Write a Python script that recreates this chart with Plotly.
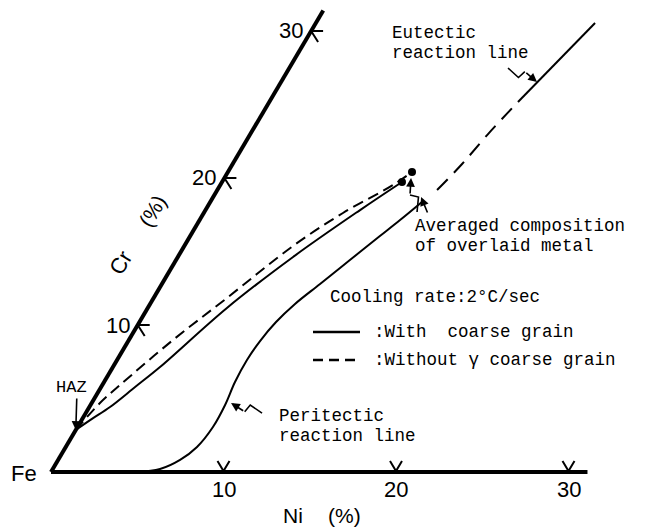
import math
import plotly.graph_objects as go

W, H = 649, 530

# ---------------- data (composition, %) ----------------
ni_ticks = [10, 20, 30]
cr_ticks = [10, 20, 30]
ni_axis_end = 31.1
cr_axis_end = 31.4

# Cooling rate 2 C/sec - with coarse grain (solid)
with_ni = [0.0, 0.56, 1.20, 1.97, 2.73, 4.59, 6.68, 8.96, 10.43]
with_cr = [2.86, 3.61, 4.42, 5.78, 7.14, 11.16, 14.63, 17.82, 19.73]

# without gamma coarse grain (dashed)
without_ni = [0.0, 0.48, 1.03, 2.56, 4.25, 6.30, 8.07, 10.01, 10.67]
without_cr = [2.86, 4.69, 5.92, 8.98, 11.84, 15.37, 17.62, 19.52, 20.41]

# peritectic reaction line
peri_ni = [4.99, 6.22, 7.07, 7.61, 7.85, 7.80, 7.59, 7.53, 7.64, 7.92, 8.40, 9.17, 10.08, 11.00, 11.62, 12.27]
peri_cr = [0.0, 0.20, 0.82, 1.70, 3.06, 4.56, 6.12, 7.62, 8.91, 10.20, 11.43, 12.79, 14.42, 16.05, 17.14, 18.37]

# eutectic reaction line
eut_dash_ni = [12.74, 13.30, 13.78, 14.42]
eut_dash_cr = [19.18, 20.95, 22.99, 25.17]
eut_solid_ni = [14.42, 16.19]
eut_solid_cr = [25.17, 30.54]

# averaged composition of overlaid metal
avg_ni = [10.43, 10.67]
avg_cr = [19.73, 20.41]

# ---------------- frame geometry (skewed composition frame) ----------------
ORG = (51.0, 472.0)   # pixel position of Fe corner
S_NI = 17.25          # px per % Ni (horizontal)
S_CRX = 8.67          # px right per % Cr
S_CRY = 14.7          # px up per % Cr
SKEW = S_CRX / S_NI


def comp(ni, cr):
    """composition -> plot coords"""
    if isinstance(ni, (list, tuple)):
        return [a + b * SKEW for a, b in zip(ni, cr)], list(cr)
    return ni + cr * SKEW, cr


def to_px(X, Y):
    return ORG[0] + X * S_NI, ORG[1] - Y * S_CRY


def from_px(px, py):
    return (px - ORG[0]) / S_NI, (ORG[1] - py) / S_CRY


def paper(px, py):
    return px / W, 1 - py / H


fig = go.Figure()
BLACK = "black"


def add_line(xs, ys, width=2, dash=None, shape="spline"):
    fig.add_trace(go.Scatter(
        x=xs, y=ys, mode="lines",
        line=dict(color=BLACK, width=width, dash=dash, shape=shape, smoothing=1.0),
        hoverinfo="skip", showlegend=False))


# axes of the diagram
ax_x, ax_y = comp([0, ni_axis_end], [0, 0])
add_line(ax_x, ax_y, width=4, shape="linear")
ax_x, ax_y = comp([0, 0], [0, cr_axis_end])
add_line(ax_x, ax_y, width=4, shape="linear")

# tick marks
for t in ni_ticks:
    X0, Y0 = comp(t, 0)
    px, py = to_px(X0, Y0)
    pts = [from_px(px + dx, py + dy) for dx, dy in [(-6, -11), (0, -1), (6, -11)]]
    add_line([p[0] for p in pts], [p[1] for p in pts], width=2, shape="linear")
for t in cr_ticks:
    X0, Y0 = comp(0, t)
    px, py = to_px(X0, Y0)
    pts = [from_px(px + dx, py + dy) for dx, dy in [(12, 0), (0, 0), (7, 11)]]
    add_line([p[0] for p in pts], [p[1] for p in pts], width=2, shape="linear")

# curves
x, y = comp(with_ni, with_cr)
add_line(x, y, width=2)
x, y = comp(without_ni, without_cr)
add_line(x, y, width=2, dash="11px,6px")
x, y = comp(peri_ni, peri_cr)
add_line(x, y, width=2)
x, y = comp(eut_dash_ni, eut_dash_cr)
add_line(x, y, width=2, dash="15px,9px")
x, y = comp(eut_solid_ni, eut_solid_cr)
add_line(x, y, width=2, shape="linear")

x, y = comp(avg_ni, avg_cr)
fig.add_trace(go.Scatter(x=x, y=y, mode="markers",
                         marker=dict(color=BLACK, size=8),
                         hoverinfo="skip", showlegend=False))

annotations = []
SANS = "Liberation Sans, Arial, sans-serif"
MONO = "Liberation Mono, Courier New, monospace"


def arrow(ni, cr, dx, dy, zig=True):
    tx, ty = comp(ni, cr)
    tpx, tpy = to_px(tx, ty)
    Tx, Ty = tpx + dx, tpy + dy
    vx, vy = tpx - Tx, tpy - Ty
    L = math.hypot(vx, vy)
    nx, ny = -vy / L, vx / L
    if zig:
        A = (Tx + 0.42 * vx + 4 * nx, Ty + 0.42 * vy + 4 * ny)
        B = (Tx + 0.52 * vx - 4 * nx, Ty + 0.52 * vy - 4 * ny)
        pts = [from_px(Tx, Ty), from_px(*A), from_px(*B)]
        add_line([p[0] for p in pts], [p[1] for p in pts], width=1.6, shape="linear")
        bx, by = B
    else:
        bx, by = Tx, Ty
    annotations.append(dict(x=tx, y=ty, xref="x", yref="y", ax=bx - tpx, ay=by - tpy,
                            showarrow=True, arrowhead=2, arrowsize=1.1, arrowwidth=1.6,
                            arrowcolor=BLACK, text="", standoff=0))


arrow(8.08, 4.69, 31, 10)          # peritectic
arrow(14.84, 26.53, -29, -14)      # eutectic
arrow(0.0, 2.86, 1, -33, zig=False)  # HAZ
arrow(10.82, 20.0, 6, 34)          # averaged composition
arrow(12.05, 18.71, 7, 17, zig=False)


def text(s, px, py, size=17.5, font=MONO, xanchor="left", angle=0):
    xp, yp = paper(px, py)
    annotations.append(dict(x=xp, y=yp, xref="paper", yref="paper", text=s,
                            showarrow=False, xanchor=xanchor, yanchor="middle",
                            textangle=angle,
                            font=dict(family=font, size=size, color=BLACK)))


# tick labels
for t in ni_ticks:
    X0, Y0 = comp(t, 0)
    px, py = to_px(X0, Y0)
    text(str(t), px, py + 17, size=22, font=SANS, xanchor="center")
for t in cr_ticks:
    X0, Y0 = comp(0, t)
    px, py = to_px(X0, Y0)
    text(str(t), px - 6, py, size=22, font=SANS, xanchor="right")

text("Fe", 39, 473, size=22, font=SANS, xanchor="right")
text("Ni", 281, 515, size=21, font=SANS)
text("(%)", 326, 515, size=21, font=SANS)
text("Cr", 120, 263, size=22, font=SANS, xanchor="center", angle=-59)
text("(%)", 152, 211, size=21, font=SANS, xanchor="center", angle=-59)

text("HAZ", 71, 387, size=17, xanchor="center")
text("Peritectic", 277, 415.5)
text("reaction line", 277, 435.5)
text("Eutectic", 390, 33)
text("reaction line", 390, 53)
text("Averaged composition", 413, 225.5)
text("of overlaid metal", 413, 245.5)
text("Cooling rate:2°C/sec", 328, 297)
text(":With  coarse grain", 372, 332)
text(":Without γ coarse grain", 372, 360)

shapes = []
x0, y0 = paper(313, 332)
x1, y1 = paper(360, 332)
shapes.append(dict(type="line", xref="paper", yref="paper", x0=x0, y0=y0, x1=x1, y1=y1,
                   line=dict(color=BLACK, width=2.5)))
x0, y0 = paper(313, 360)
x1, y1 = paper(360, 360)
shapes.append(dict(type="line", xref="paper", yref="paper", x0=x0, y0=y0, x1=x1, y1=y1,
                   line=dict(color=BLACK, width=2.5, dash="10px,6px")))

fig.update_layout(
    width=W, height=H, autosize=False,
    margin=dict(l=0, r=0, t=0, b=0),
    paper_bgcolor="white", plot_bgcolor="white",
    xaxis=dict(visible=False, range=[-ORG[0] / S_NI, (W - ORG[0]) / S_NI], fixedrange=True),
    yaxis=dict(visible=False, range=[(ORG[1] - H) / S_CRY, ORG[1] / S_CRY], fixedrange=True),
    annotations=annotations, shapes=shapes,
    showlegend=False,
)

fig.write_html("out.html")
